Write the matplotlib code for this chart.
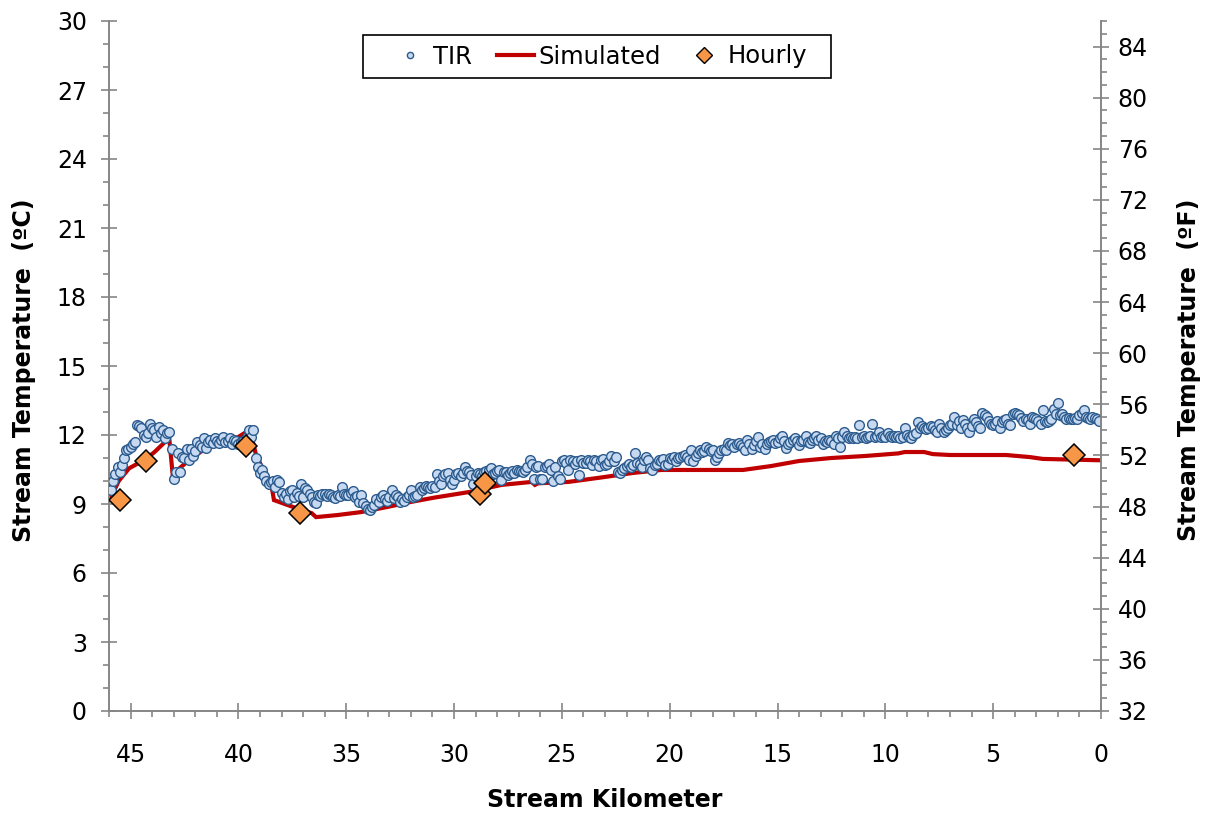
import numpy as np
import matplotlib
matplotlib.use("Agg")
import matplotlib.pyplot as plt
from matplotlib.lines import Line2D
from matplotlib.patches import Rectangle
from matplotlib.ticker import MultipleLocator

plt.rcParams['font.family'] = ['DejaVu Sans']

# ---------------- data ----------------
# TIR samples every 0.1 km starting at km 45.9 going downstream
TIR_START_KM = 45.9
TIR_STEP_KM = 0.1
TIR_C = [
    9.6, 10.0, 10.3, 10.6, 10.4, 10.7, 11.0, 11.35, 11.4, 11.5,
    11.6, 11.7, 12.45, 12.4, 12.3, 12.0, 11.9, 12.1, 12.5, 12.3,
    12.2, 11.9, 12.35, 12.1, 12.2, 11.85, 12.1, 12.15, 11.4, 10.1,
    10.4, 11.2, 10.4, 11.05, 11.0, 11.4, 10.9, 11.4, 11.1, 11.3,
    11.7, 11.55, 11.5, 11.85, 11.45, 11.7, 11.8, 11.65, 11.85, 11.75,
    11.65, 11.8, 11.9, 11.7, 11.75, 11.85, 11.6, 11.8, 11.75, 11.6,
    11.7, 11.75, 11.6, 11.9, 12.2, 11.9, 12.2, 11.0, 10.6, 10.35,
    10.5, 10.2, 10.0, 9.85, 9.95, 10.0, 9.75, 10.05, 9.95, 9.5,
    9.3, 9.45, 9.2, 9.55, 9.6, 9.3, 9.5, 9.35, 9.85, 9.3,
    9.7, 9.6, 9.45, 9.3, 9.1, 9.05, 9.4, 9.35, 9.45, 9.45,
    9.35, 9.45, 9.4, 9.3, 9.25, 9.4, 9.35, 9.75, 9.45, 9.4,
    9.4, 9.5, 9.55, 9.3, 9.35, 9.1, 9.4, 9.05, 8.9, 8.8,
    8.75, 8.85, 8.95, 9.2, 9.1, 9.3, 9.4, 9.2, 9.15, 9.3,
    9.6, 9.25, 9.4, 9.3, 9.1, 9.2, 9.15, 9.3, 9.4, 9.6,
    9.3, 9.35, 9.4, 9.75, 9.6, 9.7, 9.8, 9.75, 9.7, 9.8,
    9.75, 10.3, 10.0, 9.85, 10.2, 10.3, 10.35, 10.05, 9.85, 10.05,
    10.3, 10.35, 10.2, 10.35, 10.6, 10.45, 10.4, 10.25, 9.85, 10.2,
    10.35, 10.3, 10.2, 10.4, 10.45, 10.5, 10.55, 10.3, 10.35, 10.45,
    10.5, 10.05, 10.4, 10.4, 10.25, 10.35, 10.45, 10.35, 10.5, 10.45,
    10.45, 10.4, 10.5, 10.6, 10.9, 10.75, 10.1, 10.6, 10.65, 10.1,
    10.1, 10.6, 10.65, 10.75, 10.5, 10.0, 10.6, 10.2, 10.1, 10.85,
    10.9, 10.8, 10.5, 10.9, 10.85, 10.75, 10.85, 10.25, 10.9, 10.8,
    10.8, 10.9, 10.85, 10.7, 10.9, 10.85, 10.65, 10.9, 10.95, 10.7,
    10.75, 10.85, 11.1, 10.85, 11.05, 10.4, 10.35, 10.5, 10.55, 10.65,
    10.75, 10.6, 10.7, 11.2, 10.8, 10.75, 10.6, 10.9, 11.05, 10.9,
    10.55, 10.5, 10.7, 10.75, 10.9, 10.85, 10.95, 10.7, 10.75, 11.0,
    10.95, 11.05, 10.85, 11.0, 11.05, 11.1, 11.15, 11.05, 10.9, 11.35,
    10.85, 11.1, 11.2, 11.35, 11.25, 11.3, 11.5, 11.4, 11.3, 11.35,
    10.9, 11.05, 11.2, 11.35, 11.4, 11.35, 11.65, 11.55, 11.6, 11.5,
    11.6, 11.65, 11.55, 11.5, 11.35, 11.8, 11.6, 11.4, 11.55, 11.75,
    11.9, 11.5, 11.6, 11.4, 11.6, 11.7, 11.75, 11.8, 11.65, 11.7,
    11.85, 11.95, 11.75, 11.45, 11.6, 11.7, 11.8, 11.85, 11.75, 11.55,
    11.75, 11.8, 11.95, 11.7, 11.65, 11.8, 11.85, 11.95, 11.8, 11.85,
    11.6, 11.75, 11.7, 11.8, 11.75, 11.6, 11.95, 11.85, 11.5, 11.9,
    12.15, 11.95, 11.85, 11.9, 11.85, 11.9, 11.85, 12.45, 11.9, 11.95,
    11.85, 11.9, 11.95, 12.5, 11.9, 11.95, 12.15, 11.9, 11.95, 11.9,
    12.1, 11.95, 11.9, 11.95, 11.9, 11.95, 11.85, 11.9, 12.3, 12.0,
    11.9, 11.85, 12.0, 12.1, 12.55, 12.3, 12.4, 12.3, 12.25, 12.3,
    12.4, 12.35, 12.2, 12.15, 12.5, 12.3, 12.15, 12.2, 12.3, 12.45,
    12.5, 12.8, 12.45, 12.6, 12.3, 12.65, 12.5, 12.3, 12.15, 12.4,
    12.7, 12.55, 12.4, 12.3, 12.95, 12.85, 12.8, 12.6, 12.5, 12.45,
    12.5, 12.6, 12.3, 12.55, 12.65, 12.7, 12.5, 12.45, 12.9, 12.95,
    12.9, 12.85, 12.75, 12.6, 12.7, 12.65, 12.5, 12.8, 12.75, 12.7,
    12.6, 12.5, 13.1, 12.6, 12.55, 12.6, 12.7, 13.15, 12.9, 13.4,
    12.85, 12.9, 12.8, 12.7, 12.75, 12.7, 12.7, 12.75, 12.7, 12.85,
    12.95, 13.1, 12.8, 12.75, 12.7, 12.8, 12.75, 12.7, 12.6,
]

SIM_KM = [45.9, 45.55, 45.07, 44.3, 43.9, 43.4, 43.2, 43.05, 42.37, 41.75,
          41.15, 40.2, 39.6, 39.45, 39.2, 38.43, 38.35, 37.7, 37.1, 36.6,
          36.4, 35.4, 34.3, 33.1, 32.0, 30.9, 29.3, 27.8, 26.4, 26.25,
          26.1, 24.7, 23.2, 21.7, 20.4, 16.6, 15.3, 14.0, 12.5, 10.9,
          9.4, 9.1, 8.2, 7.8, 7.0, 4.4, 3.3, 2.7, 0.0]
SIM_C = [9.3, 10.0, 10.55, 10.95, 11.25, 11.7, 11.8, 10.3, 10.84, 11.27,
         11.55, 11.8, 12.15, 12.2, 11.2, 9.6, 9.17, 8.95, 8.75, 8.6,
         8.43, 8.52, 8.65, 8.87, 9.09, 9.28, 9.52, 9.83, 9.96, 9.83,
         9.9, 9.96, 10.15, 10.35, 10.48, 10.48, 10.65, 10.87, 11.0, 11.09,
         11.2, 11.26, 11.26, 11.17, 11.13, 11.13, 11.04, 10.96, 10.9]

HOURLY_KM = [45.5, 44.3, 39.67, 37.16, 28.78, 28.55, 1.25]
HOURLY_C = [9.17, 10.87, 11.52, 8.6, 9.43, 9.9, 11.13]

X_TICKS = [45, 40, 35, 30, 25, 20, 15, 10, 5, 0]
C_TICKS = [0, 3, 6, 9, 12, 15, 18, 21, 24, 27, 30]
F_TICKS = [32, 36, 40, 44, 48, 52, 56, 60, 64, 68, 72, 76, 80, 84]

tir_km = TIR_START_KM - TIR_STEP_KM * np.arange(len(TIR_C))

# ---------------- figure ----------------
W, H = 1209, 815
fig = plt.figure(figsize=(W / 100, H / 100), dpi=100)
ax = fig.add_axes([109 / W, 1 - 711 / H, (1101 - 109) / W, (711 - 21) / H])

gray = '#868686'
tir_face = '#C6D9F1'
tir_edge = '#2C5B8E'
sim_col = '#C00000'
hr_face = '#F79646'

ax.plot(SIM_KM, SIM_C, color=sim_col, lw=3.0, zorder=2, solid_joinstyle='miter')
ax.plot(tir_km, TIR_C, ls='none', marker='o', ms=7.0, mfc=tir_face, mec=tir_edge,
        mew=1.0, zorder=3)
ax.plot(HOURLY_KM, HOURLY_C, ls='none', marker='D', ms=11.5, mfc=hr_face, mec='black',
        mew=1.1, zorder=4)

ax.set_xlim(46, 0)
ax.set_ylim(0, 30)
ax.set_xticks(X_TICKS)
ax.xaxis.set_minor_locator(MultipleLocator(1))
ax.set_yticks(C_TICKS)
ax.yaxis.set_minor_locator(MultipleLocator(1))

for s in ['top', 'right']:
    ax.spines[s].set_visible(False)
for s in ['left', 'bottom']:
    ax.spines[s].set_color(gray)
    ax.spines[s].set_linewidth(1.4)

ax.tick_params(axis='x', which='major', direction='inout', length=12, width=1.2,
               color=gray, labelsize=17, pad=17)
ax.tick_params(axis='x', which='minor', direction='out', length=4, width=1.2, color=gray)
ax.tick_params(axis='y', which='major', direction='inout', length=12, width=1.2,
               color=gray, labelsize=17, pad=10)
ax.tick_params(axis='y', which='minor', direction='out', length=4, width=1.2, color=gray)

ax2 = ax.twinx()
ax2.set_ylim(32, 86)
ax2.set_yticks(F_TICKS)
ax2.yaxis.set_minor_locator(MultipleLocator(1))
for s in ['top', 'left', 'bottom']:
    ax2.spines[s].set_visible(False)
ax2.spines['right'].set_color(gray)
ax2.spines['right'].set_linewidth(1.4)
ax2.tick_params(axis='y', which='major', direction='inout', length=12, width=1.2,
                color=gray, labelsize=17, pad=6)
ax2.tick_params(axis='y', which='minor', direction='out', length=4, width=1.2, color=gray)

# labels
fig.text(605 / W, 1 - 800 / H, 'Stream Kilometer', ha='center', va='center',
         fontsize=17, fontweight='bold')
fig.text(24 / W, 1 - 370 / H, 'Stream Temperature  (ºC)', ha='center', va='center',
         rotation=90, fontsize=17, fontweight='bold')
fig.text(1189 / W, 1 - 370 / H, 'Stream Temperature  (ºF)', ha='center', va='center',
         rotation=90, fontsize=17, fontweight='bold')

# legend (frame drawn as a separate box to match the wide padding)
frame = Rectangle((363 / W, 1 - 78 / H), (831 - 363) / W, (78 - 35) / H,
                  transform=fig.transFigure, facecolor='white', edgecolor='black',
                  lw=1.2, zorder=4.5, clip_on=False)
ax2.add_patch(frame)
handles = [
    Line2D([], [], ls='none', marker='o', ms=4.5, mfc=tir_face, mec=tir_edge, mew=1.0),
    Line2D([], [], color=sim_col, lw=3.0),
    Line2D([], [], ls='none', marker='D', ms=8, mfc=hr_face, mec='black', mew=1.0),
]
leg = ax2.legend(handles, ['TIR', 'Simulated', 'Hourly'], ncol=3, loc='center',
                 bbox_to_anchor=(599 / W, 1 - 56.5 / H), bbox_transform=fig.transFigure,
                 fontsize=17.5, frameon=False,
                 handlelength=1.52, handletextpad=0.19, columnspacing=1.03,
                 borderpad=0.0, borderaxespad=0)
leg.set_zorder(5)

fig.savefig('out.png', dpi=100)
